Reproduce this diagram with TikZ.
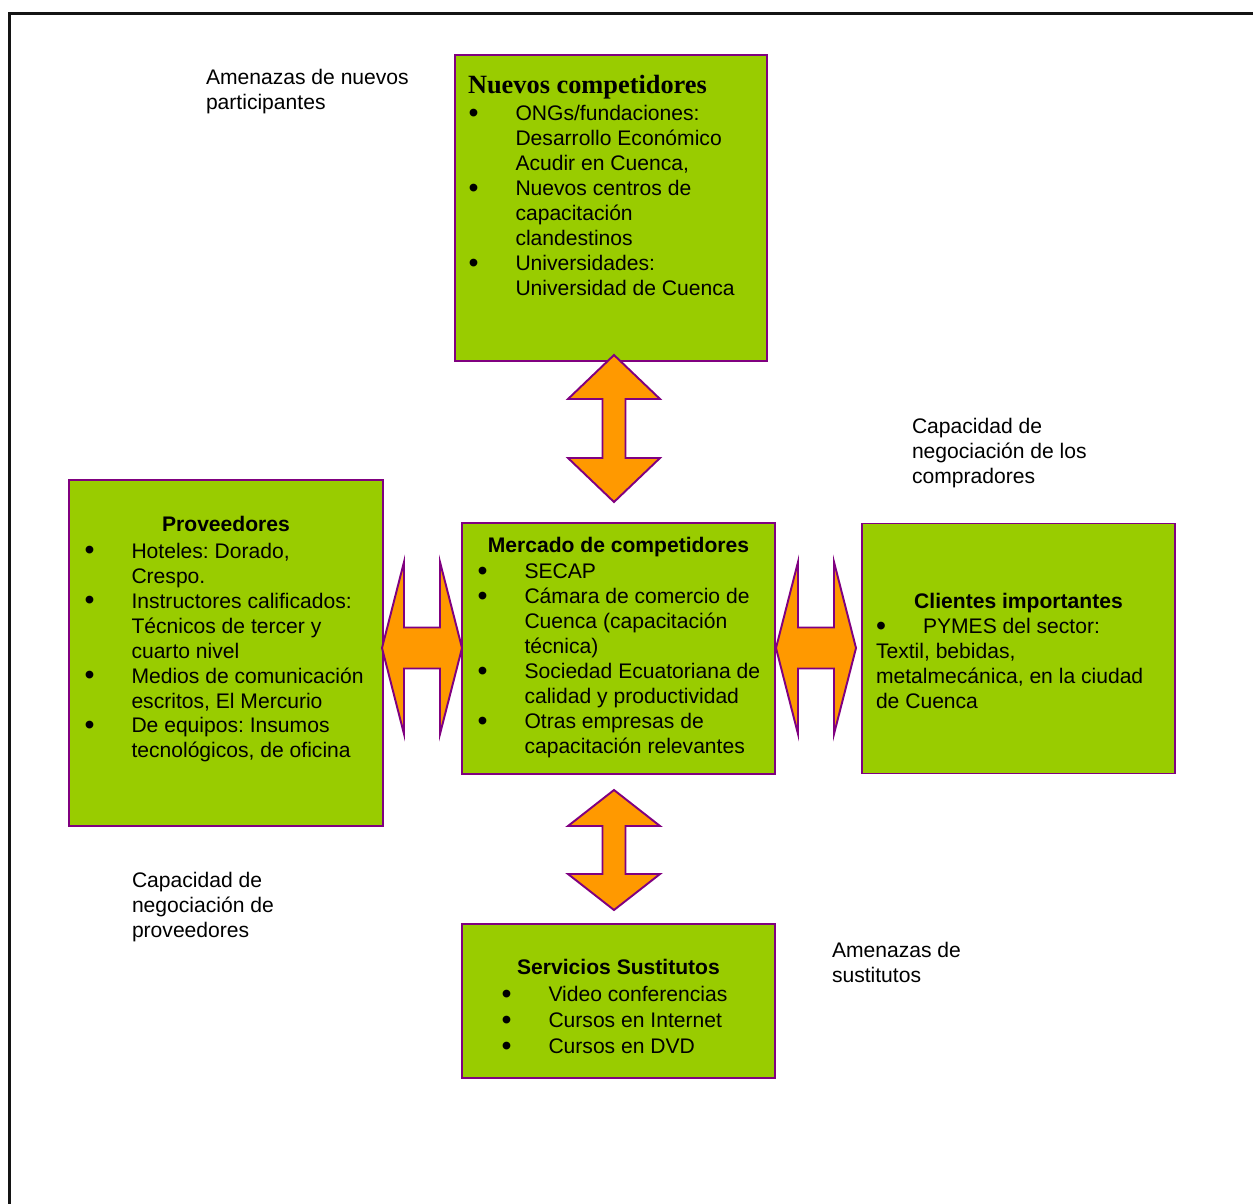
\documentclass[tikz,border=0pt]{standalone}
\usepackage{fontspec}
\setmainfont{Liberation Sans}
\newfontfamily\titleserif{Liberation Serif}
\usepackage{graphicx}
\usetikzlibrary{positioning}
\definecolor{boxgreen}{RGB}{153,204,0}
\definecolor{arroworange}{RGB}{255,153,0}
\definecolor{edgepurple}{RGB}{128,0,128}
\definecolor{framegray}{RGB}{20,20,20}
\newcommand{\itembul}{\makebox[0.94cm][l]{\raisebox{-0.08em}{\scalebox{1.35}{\textbullet}}}}
\newcommand{\itemind}{\makebox[0.94cm]{}}
\frenchspacing

\begin{document}
\begin{tikzpicture}[
  box/.style={draw=edgepurple, fill=boxgreen, line width=1pt,
              inner sep=0pt, outer sep=0pt},
  blockarrow/.style={draw=edgepurple, fill=arroworange, line width=1.1pt},
  txt/.style={font=\fontsize{12}{14.2}\selectfont, align=left,
              inner sep=0pt, outer sep=0pt},
  ttl/.style={font=\bfseries\fontsize{12}{14.2}\selectfont,
              inner sep=0pt, outer sep=0pt},
]
\useasboundingbox (0,0) rectangle (25.06,-24.08);
% page frame, runs off the right and bottom edges
\draw[framegray, line width=1.5pt] (25.2,-0.27) -- (0.19,-0.27) -- (0.19,-24.2);

% the five boxes
\node[box, minimum width=6.26cm, minimum height=5.02cm] (mercado) at (12.37,-12.97) {};
\node[box, minimum width=6.24cm, minimum height=6.12cm,
      above=3.24cm of mercado, xshift=-0.15cm] (nuevos) {};
\node[box, minimum width=6.28cm, minimum height=6.92cm,
      left=1.58cm of mercado, yshift=-0.09cm] (proveedores) {};
\node[box, minimum width=6.26cm, minimum height=5.00cm,
      right=1.74cm of mercado] (clientes) {};
\node[box, minimum width=6.26cm, minimum height=3.08cm,
      below=3.00cm of mercado] (servicios) {};

% double block arrows between the boxes
\draw[blockarrow] (12.28,-7.10) -- ++(0.92,-0.88) -- ++(-0.69,0) -- ++(0,-1.18)
  -- ++(0.69,0) -- ++(-0.92,-0.88) -- ++(-0.92,0.88) -- ++(0.69,0)
  -- ++(0,1.18) -- ++(-0.69,0) -- cycle;
\draw[blockarrow] (12.28,-15.80) -- ++(0.92,-0.72) -- ++(-0.69,0) -- ++(0,-0.96)
  -- ++(0.69,0) -- ++(-0.92,-0.72) -- ++(-0.92,0.72) -- ++(0.69,0)
  -- ++(0,0.96) -- ++(-0.69,0) -- cycle;
\draw[blockarrow] (7.64,-12.96) -- ++(0.44,1.72) -- ++(0,-1.31) -- ++(0.72,0)
  -- ++(0,1.31) -- ++(0.44,-1.72) -- ++(-0.44,-1.72) -- ++(0,1.31)
  -- ++(-0.72,0) -- ++(0,-1.31) -- cycle;
\draw[blockarrow] (15.52,-12.96) -- ++(0.44,1.72) -- ++(0,-1.31) -- ++(0.72,0)
  -- ++(0,1.31) -- ++(0.44,-1.72) -- ++(-0.44,-1.72) -- ++(0,1.31)
  -- ++(-0.72,0) -- ++(0,-1.31) -- cycle;

% box contents
\node[ttl, font=\titleserif\bfseries\fontsize{15}{18}\selectfont,
      below right=0.40cm and 0.26cm of nuevos.north west] (nuevosttl) {Nuevos competidores};
\node[txt, below right=1.01cm and 0.27cm of nuevos.north west] (nuevoslist)
  {\itembul ONGs/fundaciones:\\
   \itemind Desarrollo Económico\\
   \itemind Acudir en Cuenca,\\
   \itembul Nuevos centros de\\
   \itemind capacitación\\
   \itemind clandestinos\\
   \itembul Universidades:\\
   \itemind Universidad de Cuenca};

\node[ttl, below=0.28cm of mercado.north] (mercadottl) {Mercado de competidores};
\node[txt, below right=0.82cm and 0.31cm of mercado.north west] (mercadolist)
  {\itembul SECAP\\
   \itembul Cámara de comercio de\\
   \itemind Cuenca (capacitación\\
   \itemind técnica)\\
   \itembul Sociedad Ecuatoriana de\\
   \itemind calidad y productividad\\
   \itembul Otras empresas de\\
   \itemind capacitación relevantes};

\node[ttl, below=0.73cm of proveedores.north] (proveedoresttl) {Proveedores};
\node[txt, below right=1.26cm and 0.31cm of proveedores.north west] (proveedoreslist)
  {\itembul Hoteles: Dorado,\\
   \itemind Crespo.\\
   \itembul Instructores calificados:\\
   \itemind Técnicos de tercer y\\
   \itemind cuarto nivel\\
   \itembul Medios de comunicación\\
   \itemind escritos, El Mercurio\\
   \itembul De equipos: Insumos\\
   \itemind tecnológicos, de oficina};

\node[ttl, below=1.40cm of clientes.north] (clientesttl) {Clientes importantes};
\node[txt, below right=1.90cm and 0.28cm of clientes.north west] (clienteslist)
  {\itembul PYMES del sector:\\
   Textil, bebidas,\\
   metalmecánica, en la ciudad\\
   de Cuenca};

\node[ttl, below=0.71cm of servicios.north] (serviciosttl) {Servicios Sustitutos};
\node[txt, font=\fontsize{12}{14.8}\selectfont,
      below right=1.25cm and 0.79cm of servicios.north west] (servicioslist)
  {\itembul Video conferencias\\
   \itembul Cursos en Internet\\
   \itembul Cursos en DVD};

% force labels
\node[txt, anchor=north west] (entrantes) at (4.12,-1.38)
  {Amenazas de nuevos\\participantes};
\node[txt, anchor=north west] (compradores) at (18.24,-8.36)
  {Capacidad de\\negociación de los\\compradores};
\node[txt, anchor=north west] (poderprov) at (2.64,-17.44)
  {Capacidad de\\negociación de\\proveedores};
\node[txt, anchor=north west] (sustitutos) at (16.64,-18.84)
  {Amenazas de\\sustitutos};
\end{tikzpicture}
\end{document}
